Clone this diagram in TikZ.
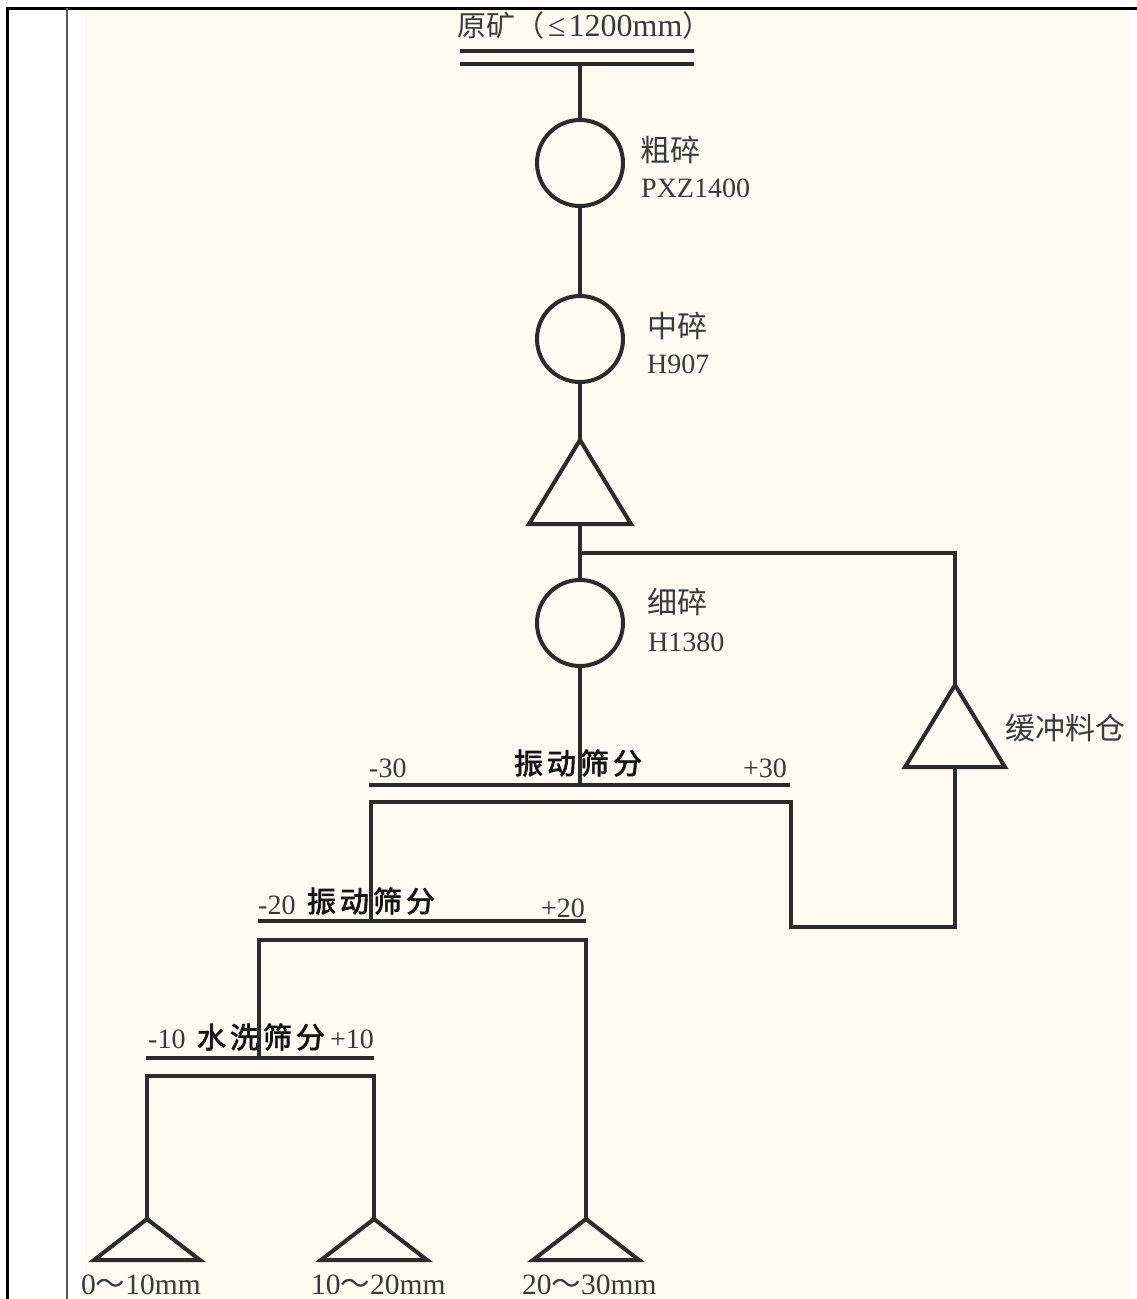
\documentclass[tikz,border=0pt]{standalone}
\usepackage{fontspec}
\setmainfont{Liberation Serif}
\newfontfamily\cjk{Noto Sans CJK SC}
\newfontfamily\cjkb{Noto Sans CJK SC}[FakeBold=2.5]
\definecolor{cream}{HTML}{FDFAF2}
\definecolor{ink}{HTML}{2B2B2B}
\definecolor{txt}{HTML}{3A3A3A}
\tikzset{
  flow/.style={line width=4pt, draw=ink},
  unit/.style={circle, draw=ink, line width=4pt, minimum size=86pt, inner sep=0pt},
  bin/.style={line width=4pt, draw=ink, line join=miter},
  lbl/.style={inner sep=0pt, text=txt, font=\fontsize{28}{30}\selectfont},
  cn/.style={inner sep=0pt, text=txt, font=\cjk\fontsize{30}{32}\selectfont},
  cnb/.style={inner sep=0pt, text=black!92, font=\cjkb\fontsize{29}{30}\selectfont},
  prod/.style={inner sep=0pt, text=txt, font=\fontsize{29.5}{31}\selectfont},
}
\begin{document}
\begin{tikzpicture}[x=1pt,y=-1pt]
\useasboundingbox (0,0) rectangle (1137,1299);
% background and frame
\fill[white] (0,0) rectangle (1137,1299);
\fill[cream] (81,10) rectangle (1130,1299);
\draw[line width=3pt, black] (7,1299) -- (7,8) -- (1137,8);
\draw[line width=2pt, black!65] (67,8) -- (67,1299);

% feed
\node[anchor=west, inner sep=0pt, text=txt] (feedlbl) at (457,25)
  {{\cjk\fontsize{29}{30}\selectfont 原矿（}\hspace{4pt}{\fontsize{32}{33}\selectfont ≤\hspace{3pt}1200mm}{\cjk\fontsize{29}{30}\selectfont ）}};
\draw[flow] (460,51) -- (694,51);
\draw[flow] (460,64) -- (694,64);
\coordinate (feed) at (580,64);

% crushers
\node[unit] (c1) at (580,163) {};
\node[unit] (c2) at (580,339) {};
\node[unit] (c3) at (580,623) {};
\node[cn, anchor=west] (l1a) at (640,150) {粗碎};
\node[lbl, anchor=base west] (l1b) at (641,197) {PXZ1400};
\node[cn, anchor=west] (l2a) at (647,326) {中碎};
\node[lbl, anchor=base west] (l2b) at (647,373) {H907};
\node[cn, anchor=west] (l3a) at (647,602) {细碎};
\node[lbl, anchor=base west] (l3b) at (648,651) {H1380};

% intermediate bin
\coordinate (t1a) at (580,440);
\coordinate (t1b) at (580,524);
\draw[bin] (t1a) -- ++(-51,84) -- ++(102,0) -- cycle;
% buffer bin
\coordinate (t2a) at (955,685);
\coordinate (t2b) at (955,767);
\draw[bin] (t2a) -- ++(-50,82) -- ++(100,0) -- cycle;
\node[cn, anchor=west] (l4) at (1005,728) {缓冲料仓};

\coordinate (j1) at (580,553);
\draw[flow] (feed) -- (c1.north);
\draw[flow] (c1.south) -- (c2.north);
\draw[flow] (c2.south) -- (t1a);
\draw[flow] (t1b) -- (c3.north);
\draw[flow] (j1) -| (t2a);

% screen 1
\coordinate (s1l) at (369,785);
\coordinate (s1r) at (790,785);
\coordinate (s1m) at (580,785);
\draw[flow] (s1l) -- (s1r);
\draw[flow] (c3.south) -- (s1m);
\node[cnb] (sc1) at (578,763) {振\hspace{4pt}动\hspace{4pt}筛\hspace{4pt}分};
\node[lbl, anchor=base west] (m30) at (369,777) {-30};
\node[lbl, anchor=base east] (p30) at (787,777) {+30};

% screen 2
\coordinate (s2l) at (258,921);
\coordinate (s2r) at (586,921);
\coordinate (s2m) at (371,921);
\draw[flow] (s2l) -- (s2r);
\node[cnb] (sc2) at (371,901) {振\hspace{4pt}动\hspace{4pt}筛\hspace{4pt}分};
\node[lbl, anchor=base west] (m20) at (258,914) {-20};
\node[lbl, anchor=base east] (p20) at (585,917) {+20};
\coordinate (br1r) at (791,802);
\coordinate (loop) at (791,927);
\draw[flow] (s2m) |- (br1r) -- (loop) -| (t2b);

% screen 3
\coordinate (s3l) at (146,1058);
\coordinate (s3r) at (374,1058);
\coordinate (s3m) at (259,1058);
\draw[flow] (s3l) -- (s3r);
\node[cnb] (sc3) at (261,1037) {水\hspace{4pt}洗\hspace{4pt}筛\hspace{4pt}分};
\node[lbl, anchor=base west] (m10) at (148,1048) {-10};
\node[lbl, anchor=base east] (p10) at (374,1048) {+10};

% product bins
\coordinate (p1) at (147,1219);
\coordinate (p2) at (374,1219);
\coordinate (p3) at (586,1219);
\foreach \p in {p1,p2,p3}
  \draw[bin] (\p) -- ++(-53,41) -- ++(106,0) -- cycle;
\coordinate (br2r) at (586,940);
\draw[flow] (s3m) |- (br2r) -- (p3);
\coordinate (br3r) at (374,1076);
\draw[flow] (p1) |- (br3r) -- (p2);

\node[prod, anchor=base west] (o1) at (81,1294) {0{\cjk ～}10mm};
\node[prod, anchor=base west] (o2) at (311,1294) {10{\cjk ～}20mm};
\node[prod, anchor=base west] (o3) at (522,1294) {20{\cjk ～}30mm};
\end{tikzpicture}
\end{document}
